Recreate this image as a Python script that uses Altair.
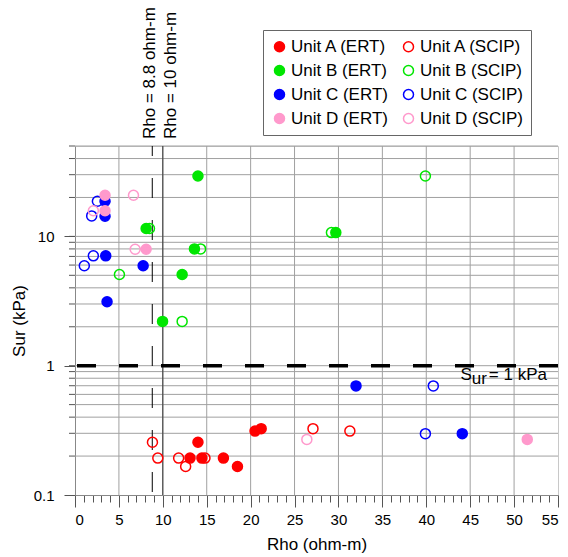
import altair as alt
import pandas as pd

# ---- data ----
a_ert_x = [13.1, 14.0, 14.45, 16.9, 18.5, 20.5, 21.2]
a_ert_y = [0.193, 0.256, 0.193, 0.193, 0.166, 0.312, 0.326]
a_scip_x = [8.82, 9.43, 11.8, 12.6, 14.8, 27.1, 31.3]
a_scip_y = [0.256, 0.193, 0.193, 0.166, 0.193, 0.326, 0.312]

b_ert_x = [14.0, 8.1, 13.6, 12.2, 9.97, 29.7]
b_ert_y = [29.3, 11.5, 8.0, 5.07, 2.2, 10.7]
b_scip_x = [8.48, 14.3, 5.06, 12.2, 39.9, 29.2]
b_scip_y = [11.5, 8.0, 5.07, 2.2, 29.3, 10.7]

c_ert_x = [3.42, 3.42, 3.5, 7.76, 3.65, 32.0, 44.1]
c_ert_y = [18.7, 14.3, 7.07, 5.93, 3.12, 0.698, 0.298]
c_scip_x = [2.55, 1.9, 2.09, 1.06, 40.8, 39.9]
c_scip_y = [18.7, 14.4, 7.07, 5.93, 0.698, 0.298]

d_ert_x = [3.42, 3.42, 8.1, 51.5]
d_ert_y = [20.8, 15.8, 7.96, 0.269]
d_scip_x = [6.66, 2.09, 6.85, 26.4]
d_scip_y = [20.8, 15.8, 7.96, 0.269]

# legend fills column by column: ERT entries in column 1, SCIP in column 2
series_order = ["Unit A (ERT)", "Unit B (ERT)", "Unit C (ERT)", "Unit D (ERT)",
                "Unit A (SCIP)", "Unit B (SCIP)", "Unit C (SCIP)", "Unit D (SCIP)"]
fill_colors = ["#ff0000", "#00e600", "#0000ff", "#ff99cc",
               "transparent", "transparent", "transparent", "transparent"]
stroke_colors = ["#ff0000", "#00e600", "#0000ff", "#ff99cc",
                 "#ff0000", "#00e600", "#0000ff", "#ff99cc"]

x_ticks = list(range(0, 56))
x_grid = [5, 10, 15, 20, 25, 30, 35, 40, 45, 50]
y_major = [0.1, 1, 10]
y_grid = [0.2, 0.3, 0.4, 0.5, 0.6, 0.7, 0.8, 0.9,
          1, 2, 3, 4, 5, 6, 7, 8, 9, 10, 20, 30, 40, 50]

rho_lines = [8.8, 10]
sur_line = 1

# drawing order: open symbols first, then filled
groups = [
    ("Unit C (SCIP)", c_scip_x, c_scip_y),
    ("Unit D (SCIP)", d_scip_x, d_scip_y),
    ("Unit B (SCIP)", b_scip_x, b_scip_y),
    ("Unit A (SCIP)", a_scip_x, a_scip_y),
    ("Unit C (ERT)", c_ert_x, c_ert_y),
    ("Unit D (ERT)", d_ert_x, d_ert_y),
    ("Unit B (ERT)", b_ert_x, b_ert_y),
    ("Unit A (ERT)", a_ert_x, a_ert_y),
]
rows = []
for name, xs, ys in groups:
    for xv, yv in zip(xs, ys):
        rows.append({"series": name, "rho": xv, "sur": yv})
df = pd.DataFrame(rows)
ygrid_df = pd.DataFrame({"sur": y_grid})
xgrid_df = pd.DataFrame({"rho": x_grid})

FONT = "Liberation Sans"

x_scale = alt.Scale(domain=[0, 55], nice=False, zero=False)
y_scale = alt.Scale(type="log", domain=[0.1, 50], nice=False)

x_axis = alt.Axis(
    values=x_ticks,
    tickCount=200,
    labelOverlap=False,
    grid=False,
    title="Rho (ohm-m)",
    labelExpr="datum.value % 5 === 0 ? '' + datum.value : ''",
    tickSize={"condition": {"test": "datum.value % 5 === 0", "value": 12}, "value": 7},
    labelPadding=5,
    titleY=41,
    titleBaseline="top",
)
y_axis = alt.Axis(
    values=y_major,
    tickCount=200,
    labelOverlap=False,
    grid=False,
    title="Sur (kPa)",
    labelExpr="datum.value == 0.1 ? '0.1' : '' + datum.value",
    tickSize=11,
    labelPadding=10,
    titlePadding=5,
)

# grid lines
hgrid = alt.Chart(ygrid_df).mark_rule(color="#a0a0a0", strokeWidth=1).encode(
    y=alt.Y("sur:Q", scale=y_scale, axis=y_axis)
)
vgrid = alt.Chart(xgrid_df).mark_rule(color="#a0a0a0", strokeWidth=1).encode(
    x=alt.X("rho:Q", scale=x_scale, axis=x_axis)
)
# minor ticks on the left axis
minor_ticks = alt.Chart(ygrid_df).mark_rule(color="#555555", strokeWidth=1).encode(
    y=alt.Y("sur:Q", scale=y_scale, axis=y_axis),
    x=alt.value(-6), x2=alt.value(0),
)

points = alt.Chart(df).mark_point(shape="circle", size=100, strokeWidth=1.5, opacity=1).encode(
    x=alt.X("rho:Q", scale=x_scale, axis=x_axis),
    y=alt.Y("sur:Q", scale=y_scale, axis=y_axis),
    fill=alt.Fill("series:N", scale=alt.Scale(domain=series_order, range=fill_colors),
                  legend=alt.Legend(title=None)),
    stroke=alt.Stroke("series:N", scale=alt.Scale(domain=series_order, range=stroke_colors),
                      legend=alt.Legend(title=None)),
)

line88 = alt.Chart().mark_rule(color="black", strokeWidth=1, strokeDash=[20, 22],
                               strokeDashOffset=10).encode(x=alt.datum(rho_lines[0]))
line10 = alt.Chart().mark_rule(color="#333333", strokeWidth=1).encode(x=alt.datum(rho_lines[1]))
line1 = alt.Chart().mark_rule(color="black", strokeWidth=3.5, strokeDash=[19, 23]).encode(
    y=alt.datum(sur_line))

txt88 = alt.Chart().mark_text(text="Rho = 8.8 ohm-m", angle=270, align="left",
                              baseline="alphabetic", dy=2.5, font=FONT, fontSize=17,
                              color="black").encode(x=alt.datum(rho_lines[0]), y=alt.value(-7))
txt10 = alt.Chart().mark_text(text="Rho = 10 ohm-m", angle=270, align="left",
                              baseline="top", font=FONT, fontSize=17,
                              color="black").encode(x=alt.datum(rho_lines[1]), y=alt.value(-7))

lbl_x = 43.9
txt_s = alt.Chart().mark_text(text="S", align="left", baseline="alphabetic", dy=14.7,
                              font=FONT, fontSize=17, color="black").encode(
    x=alt.datum(lbl_x), y=alt.datum(sur_line))
txt_ur = alt.Chart().mark_text(text="ur", align="left", baseline="alphabetic", dx=11.3, dy=18,
                               font=FONT, fontSize=17, color="black").encode(
    x=alt.datum(lbl_x), y=alt.datum(sur_line))
txt_eq = alt.Chart().mark_text(text="= 1 kPa", align="left", baseline="alphabetic", dx=28.3,
                               dy=14.7, font=FONT, fontSize=17, color="black").encode(
    x=alt.datum(lbl_x), y=alt.datum(sur_line))

chart = alt.layer(
    hgrid, vgrid, minor_ticks, line10, line88, line1, points,
    txt88, txt10, txt_s, txt_ur, txt_eq
).properties(
    width=483, height=349,
    padding={"left": 67, "top": 138, "right": 2, "bottom": 62},
    autosize=alt.AutoSizeParams(type="none"),
).configure_view(
    stroke="#c8c8c8", strokeWidth=1
).configure_axis(
    labelFont=FONT, labelFontSize=15, labelColor="black",
    titleFont=FONT, titleFontSize=17, titleFontWeight="normal", titleColor="black",
    tickColor="#555555", domainColor="#888888",
).configure_legend(
    orient="none", legendX=188, legendY=-116, columns=2,
    strokeColor="#666666", fillColor="white", padding=8,
    labelFont=FONT, labelFontSize=17, labelColor="black",
    symbolSize=100, symbolStrokeWidth=1.5, symbolType="circle",
    rowPadding=6, columnPadding=12, labelOffset=3,
)

chart.save("out.html", embed_options={"renderer": "svg", "actions": False})
